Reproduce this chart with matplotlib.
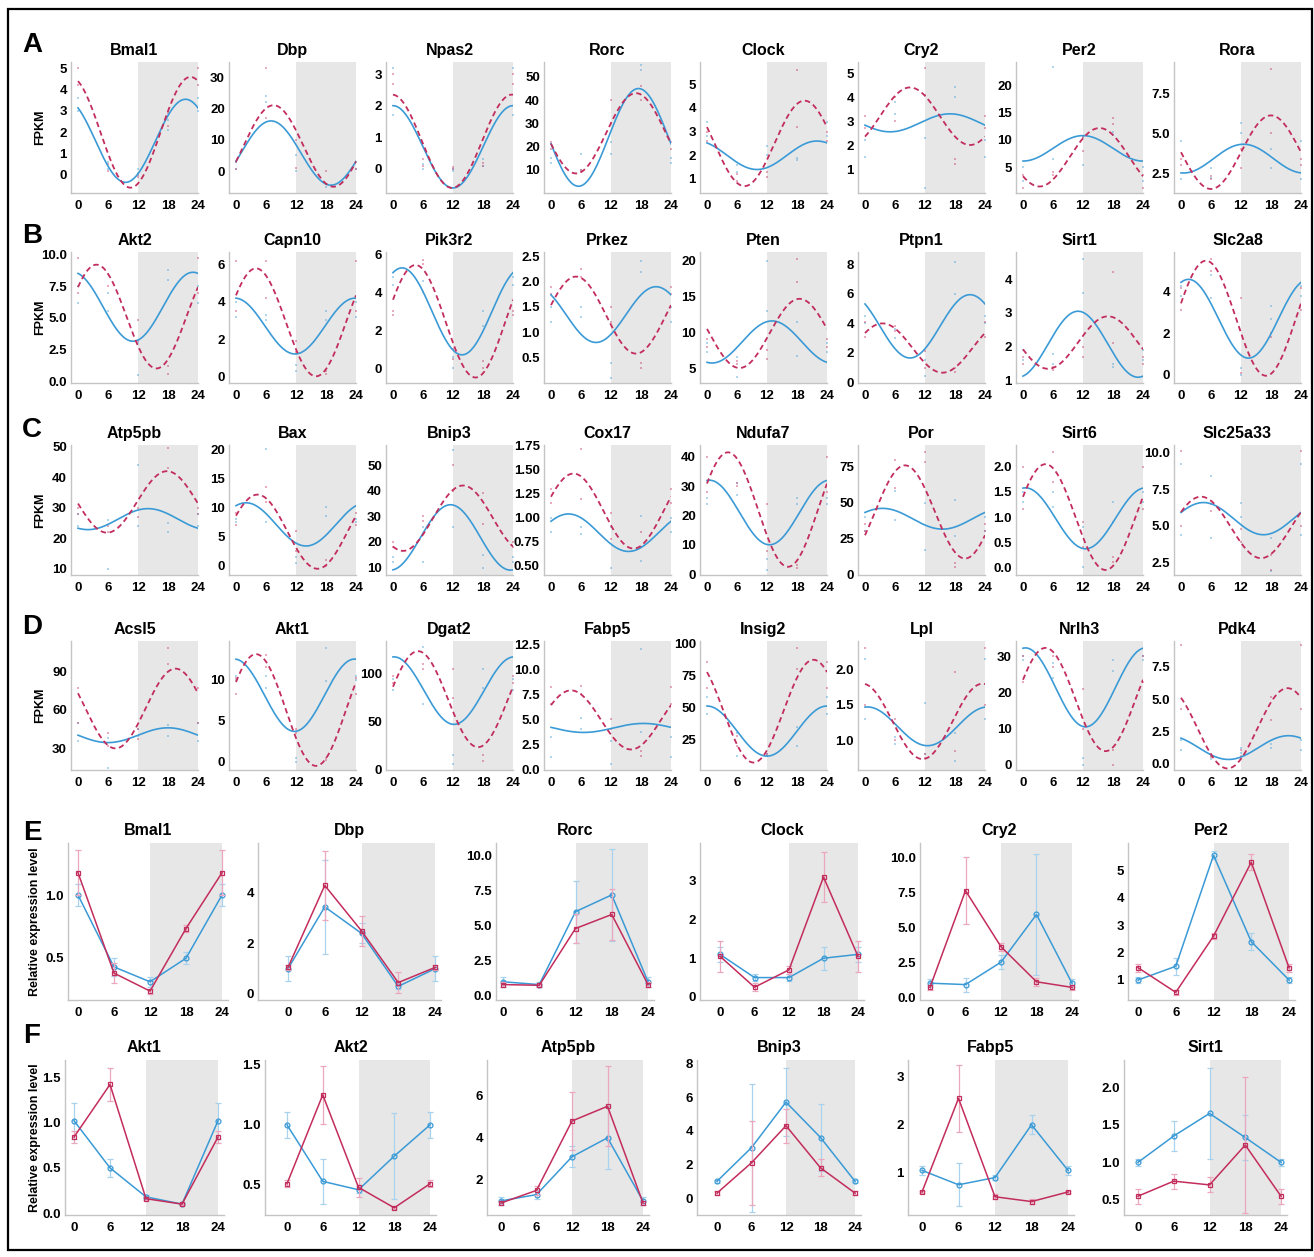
import numpy as np
import matplotlib
matplotlib.use("Agg")
import matplotlib.pyplot as plt
from matplotlib.patches import Rectangle

plt.rcParams["font.family"] = ["Liberation Sans", "DejaVu Sans"]
plt.rcParams["font.weight"] = "bold"

W, H = 1314, 1257
BLUE = "#3a9ad6"
RED = "#c22d5c"
BLUE_ERR = "#a9d2ee"
RED_ERR = "#eba7bd"
SHADE = "#e7e7e7"
SPINE = "#c4c4c4"
TIMES = [0, 6, 12, 18, 24]

# ---------------------------------------------------------------------------
# Panels A-D: RNA-seq FPKM, cosinor fits (mesor, amplitude, peak time)
# ---------------------------------------------------------------------------
GENES_AD = [
    ["Bmal1", "Dbp", "Npas2", "Rorc", "Clock", "Cry2", "Per2", "Rora"],
    ["Akt2", "Capn10", "Pik3r2", "Prkez", "Pten", "Ptpn1", "Sirt1", "Slc2a8"],
    ["Atp5pb", "Bax", "Bnip3", "Cox17", "Ndufa7", "Por", "Sirt6", "Slc25a33"],
    ["Acsl5", "Akt1", "Dgat2", "Fabp5", "Insig2", "Lpl", "Nrlh3", "Pdk4"],
]
YLIM_AD = [
    [(-0.85, 5.3), (-7, 34.8), (-0.76, 3.38), (0.1, 56.4), (0.41, 5.93), (0, 5.46), (0.2, 24.4), (1.25, 9.44)],
    [(-0.15, 10.2), (-0.36, 6.68), (-0.79, 6.14), (0, 2.585), (2.9, 21.26), (-0.05, 8.85), (0.93, 4.8), (-0.4, 5.92)],
    [(7.9, 50.6), (-1.57, 20.7), (7.1, 57.8), (0.405, 1.757), (-0.3, 44), (-0.5, 90.2), (-0.15, 2.43), (1.65, 10.53)],
    [(13.2, 113.5), (-1.0, 14.7), (-1, 134.7), (-0.05, 12.83), (1.2, 101.6), (0.575, 2.406), (-1.4, 34.2), (-0.52, 9.52)],
]
YTICKS_AD = [
    [[0, 1, 2, 3, 4, 5], [0, 10, 20, 30], [0, 1, 2, 3], [10, 20, 30, 40, 50], [1, 2, 3, 4, 5], [1, 2, 3, 4, 5],
     [5, 10, 15, 20], [2.5, 5.0, 7.5]],
    [[0, 2.5, 5, 7.5, 10], [0, 2, 4, 6], [0, 2, 4, 6], [0.5, 1, 1.5, 2, 2.5], [5, 10, 15, 20], [0, 2, 4, 6, 8],
     [1, 2, 3, 4], [0, 2, 4]],
    [[10, 20, 30, 40, 50], [0, 5, 10, 15, 20], [10, 20, 30, 40, 50], [0.5, 0.75, 1.0, 1.25, 1.5, 1.75],
     [0, 10, 20, 30, 40], [0, 25, 50, 75], [0, 0.5, 1, 1.5, 2], [2.5, 5, 7.5, 10]],
    [[30, 60, 90], [0, 5, 10], [0, 50, 100], [0, 2.5, 5, 7.5, 10, 12.5], [25, 50, 75, 100], [1.0, 1.5, 2.0],
     [0, 10, 20, 30], [0, 2.5, 5, 7.5]],
]
YDEC_AD = [
    [0, 0, 0, 0, 0, 0, 0, 1],
    [1, 0, 0, 1, 0, 0, 0, 0],
    [0, 0, 0, 2, 0, 0, 1, 1],
    [0, 0, 0, 1, 0, 1, 0, 1],
]
FIT_BLUE = [
    [(1.6, 1.95, 21.5), (5.75, 10.25, 7), (0.7, 1.3, 0), (24, 21, 17.5), (2.0, 0.6, 22), (2.925, 0.375, 17),
     (8.45, 2.35, 12), (3.4, 0.9, 12.5)],
    [(5.875, 2.725, 23), (2.7, 1.5, 23.8), (3.0, 2.3, 1.8), (1.35, 0.55, 21), (8.65, 2.95, 13), (3.8, 2.15, 21),
     (2.075, 0.975, 11), (2.7, 1.9, 1.5)],
    [(26.25, 3.45, 14), (7.1, 3.7, 2), (21.75, 12.75, 11.5), (0.845, 0.195, 3.5), (21, 11, 0.5), (38.75, 7.25, 3.5),
     (0.975, 0.605, 0.5), (5.5, 1.1, 4.5)],
    [(40.25, 5.75, 18), (8.1, 4.4, 23.7), (82.5, 35.5, 0.2), (4.15, 0.45, 18.5), (31.5, 19.5, 0),
     (1.195, 0.275, 0.5), (21.4, 10.9, 0.5), (1.225, 0.925, 21.5)],
]
FIT_RED = [
    [(2.0, 2.6, 22.5), (8, 13, 7.5), (0.875, 1.475, 23.8), (25.75, 17.25, 17), (2.5, 1.8, 19.5), (3.2, 1.2, 9),
     (6.8, 5.4, 15.3), (3.8, 2.3, 18)],
    [(5.1, 4.1, 3.7), (2.9, 2.9, 4), (2.475, 2.975, 4.5), (1.34, 0.76, 5), (9.85, 4.85, 18.5), (2.325, 1.675, 3.5),
     (2.125, 0.775, 17), (2.725, 2.775, 5)],
    [(31.9, 10.1, 17.8), (5.85, 6.35, 4.3), (29.25, 12.75, 14), (1.07, 0.39, 4.5), (22, 19.5, 4.2), (43.5, 32.5, 8),
     (1.0, 1.05, 4.5), (4.9, 2.1, 4)],
    [(61, 31, 19.5), (6.3, 6.8, 4), (73.5, 50.5, 5), (4.95, 2.95, 4), (47, 40, 21.3), (1.265, 0.535, 23.5),
     (18.05, 14.25, 4.5), (2.725, 3.125, 21.3)],
]
# replicate values, two per time point at 0, 6, 12, 18 h (0 h repeated at 24 h)
DOTS_BLUE = [
    [[3.0, 3.6, 0.3, 0.6, 0.3, 0.1, 2.1, 2.6], [3, 0.5, 24, 22, 0, 5, -4, -5], [1.7, 3.2, 0.0, 0.15, 0.0, -0.05, 0.3, 0.1],
     [13, 15, 17, 10, 17, 22, 55, 53], [2.8, 3.4, 1.3, 1.6, 2.4, 2.0, 1.8, 1.9], [1.5, 2.2, 3.3, 3.8, 0.2, 2.3, 4.4, 4.0],
     [5, 2.5, 23.5, 6.5, 5.3, 10.5, 11, 11.5], [2.1, 4.5, 2.8, 2.2, 5.6, 5.0, 2.8, 4.0]],
    [[6.2, 7.5, 5.5, 7, 0.5, 3, 8.8, 8.0], [3.2, 4, 3.3, 3.0, 0.3, 0.6, 3.5, 3.0], [4.8, 4.4, 4.6, 4.0, 0.0, 0.6, 3.0, 2.2],
     [1.2, 1.5, 1.5, 1.3, 0.1, 0.4, 2.4, 2.2], [7.2, 8.5, 3.7, 6.5, 20, 13, 6.7, 11.5], [4.5, 4.0, 3.0, 3.6, 0.4, 1.5, 8.2, 6.0],
     [1.9, 1.6, 1.8, 1.5, 4.6, 3.6, 1.4, 1.5], [3.8, 4.3, 3.7, 4.8, 0.0, 0.3, 3.3, 2.7]],
    [[24, 28, 10, 26, 44, 24, 22, 25], [7.5, 8, 20, 7.5, 0.5, 1.5, 10, 8.5], [14, 12, 12, 26, 56, 26, 10, 15],
     [0.85, 1.0, 0.83, 0.9, 0.48, 0.9, 0.55, 1.02], [24, 26, 27, 31, 1.5, 5, 24, 26], [30, 40, 38, 58, 17, 50, 52, 27],
     [1.3, 1.5, 1.5, 1.2, 0.0, 0.8, 1.3, 0.9], [9.2, 4.4, 8.4, 4.2, 6.6, 5.6, 4.2, 1.9]],
    [[36, 50, 15, 38, 45, 40, 40, 48], [10.5, 10, 10.5, 9, 0.5, 0, 13.8, 9.8], [83, 95, 68, 128, 5, 15, 105, 85],
     [1.2, 3.2, 5.1, 4.0, 0.5, 2.8, 12, 3.7], [45, 58, 12, 30, 12, 14, 20, 35], [2.15, 1.3, 0.95, 1.05, 1.52, 0.8, 0.7, 1.1],
     [29, 30, 24, 28, 0, 2, 26, 29], [1.0, 1.8, 0.6, 0.3, 1.2, 0.8, 1.5, 1.2]],
]
DOTS_RED = [
    [[4.2, 5.0, 0.5, 0.2, -0.1, 0.0, 2.3, 2.9], [0.5, 3, 33, 17, 10, 1, 0, -4], [2.7, 3.0, 0.3, 0.1, 0.05, 0.0, 0.2, 0.1],
     [22, 19, 10, 9, 40, 30, 46, 40], [2.6, 3.0, 0.9, 1.2, 1.1, 1.3, 5.6, 3.2], [3.2, 2.7, 3.0, 4.0, 5.2, 4.1, 1.4, 1.2],
     [1.2, 3.5, 3.5, 4, 8, 10.5, 14, 13], [3.4, 3.0, 2.1, 2.3, 2.8, 4.0, 9.0, 5.0]],
    [[9.7, 7, 7.5, 8.5, 4.8, 3.2, 0.6, 1.2], [6.2, 3.5, 6.2, 4.2, 1.9, 1.3, 0.1, 0.3], [2.8, 3.0, 5.7, 5.5, 1.0, 0.5, 0.0, 0.4],
     [1.9, 1.75, 2.25, 2.1, 1.5, 1.2, 0.3, 0.4], [8, 9, 6, 5.5, 6.2, 7.5, 20.3, 17], [3.1, 4.1, 3.5, 3.8, 2.1, 1.0, 0.7, 1.0],
     [1.7, 1.5, 1.3, 1.4, 1.7, 2.0, 4.2, 2.1], [3.1, 4.2, 5.6, 5.0, 3.7, 0.1, 1.8, 2.0]],
    [[28, 30, 24, 22, 27, 30, 49.5, 43], [7, 9, 13.5, 11, 6, 2.5, 0, 1], [20, 18, 30, 28, 50, 40, 39, 27],
     [1.3, 1.15, 1.72, 1.2, 1.05, 0.78, 0.85, 0.7], [40, 28, 31, 30, 24, 8, 2, 3], [35, 30, 80, 60, 85, 78, 5, 8],
     [2.0, 1.15, 2.3, 1.7, 0.9, 0.4, 0.2, 0.1], [10.1, 5.0, 6.5, 6.0, 4.8, 3.9, 2.0, 3.0]],
    [[77, 50, 42, 32, 37, 45, 108, 96], [8.2, 10.2, 13, 11.5, 4, 3.5, 0.2, 0.5], [98, 90, 105, 110, 105, 75, 8, 15],
     [8.2, 6.5, 8.3, 7.5, 5.0, 4.0, 1.3, 1.8], [85, 65, 28, 20, 14, 12, 96, 80], [2.3, 1.5, 1.3, 1.0, 0.75, 0.8, 1.97, 0.85],
     [23, 30, 30, 27, 21, 10, 0, 4], [9.2, 4.2, 0.5, 0.7, 0.6, 1.0, 5.2, 3.4]],
]

# ---------------------------------------------------------------------------
# Panels E-F: qPCR relative expression (mean, error) at 0/6/12/18/24 h
# ---------------------------------------------------------------------------
GENES_EF = [
    ["Bmal1", "Dbp", "Rorc", "Clock", "Cry2", "Per2"],
    ["Akt1", "Akt2", "Atp5pb", "Bnip3", "Fabp5", "Sirt1"],
]
YLIM_EF = [
    [(0.153, 1.42), (-0.24, 5.98), (-0.3, 10.9), (-0.08, 3.98), (-0.2, 11.0), (0.27, 6.0)],
    [(-0.02, 1.69), (0.25, 1.54), (0.33, 7.7), (-1.0, 8.2), (0.12, 3.35), (0.3, 2.36)],
]
YTICKS_EF = [
    [[0.5, 1.0], [0, 2, 4], [0, 2.5, 5, 7.5, 10], [0, 1, 2, 3], [0, 2.5, 5, 7.5, 10], [1, 2, 3, 4, 5]],
    [[0, 0.5, 1, 1.5], [0.5, 1.0, 1.5], [2, 4, 6], [0, 2, 4, 6, 8], [1, 2, 3], [0.5, 1.0, 1.5, 2.0]],
]
YDEC_EF = [
    [1, 0, 1, 0, 1, 0],
    [1, 1, 0, 0, 0, 1],
]
MEAN_BLUE = [
    [[1.0, 0.42, 0.30, 0.49, 1.0], [1.0, 3.45, 2.4, 0.3, 1.0], [1.0, 0.8, 6.0, 7.2, 1.0],
     [1.1, 0.5, 0.5, 1.0, 1.1], [1.0, 0.9, 2.5, 5.9, 1.0], [1.0, 1.5, 5.55, 2.4, 1.0]],
    [[1.02, 0.5, 0.18, 0.1, 1.02], [1.0, 0.53, 0.46, 0.74, 1.0], [1.0, 1.3, 3.1, 4.0, 1.0],
     [1.0, 3.0, 5.7, 3.6, 1.0], [1.05, 0.75, 0.9, 2.0, 1.05], [1.0, 1.35, 1.65, 1.33, 1.0]],
]
ERR_BLUE = [
    [[0.09, 0.07, 0.04, 0.05, 0.09], [0.5, 1.85, 0.4, 0.1, 0.5], [0.35, 0.15, 2.2, 3.3, 0.35],
     [0.2, 0.1, 0.1, 0.3, 0.2], [0.3, 0.5, 0.5, 4.3, 0.3], [0.1, 0.3, 0.15, 0.3, 0.1]],
    [[0.2, 0.1, 0.02, 0.01, 0.2], [0.11, 0.19, 0.03, 0.36, 0.11], [0.2, 0.2, 0.5, 1.5, 0.2],
     [0.1, 3.8, 2.0, 2.0, 0.1], [0.1, 0.45, 0.05, 0.2, 0.1], [0.05, 0.2, 0.6, 0.3, 0.05]],
]
MEAN_RED = [
    [[1.18, 0.37, 0.225, 0.73, 1.18], [1.05, 4.3, 2.5, 0.45, 1.05], [0.8, 0.75, 4.8, 5.8, 0.8],
     [1.05, 0.25, 0.7, 3.1, 1.05], [0.7, 7.6, 3.6, 1.1, 0.7], [1.45, 0.55, 2.6, 5.3, 1.45]],
    [[0.84, 1.42, 0.16, 0.1, 0.84], [0.51, 1.25, 0.48, 0.31, 0.51], [0.9, 1.5, 4.8, 5.5, 0.9],
     [0.3, 2.1, 4.3, 1.8, 0.3], [0.6, 2.55, 0.5, 0.4, 0.6], [0.55, 0.75, 0.7, 1.23, 0.55]],
]
ERR_RED = [
    [[0.18, 0.08, 0.02, 0.03, 0.18], [0.1, 1.37, 0.6, 0.4, 0.1], [0.15, 0.1, 1.0, 1.8, 0.15],
     [0.4, 0.1, 0.1, 0.65, 0.4], [0.2, 2.4, 0.3, 0.3, 0.2], [0.15, 0.1, 0.1, 0.3, 0.15]],
    [[0.07, 0.18, 0.02, 0.01, 0.07], [0.03, 0.24, 0.08, 0.01, 0.03], [0.1, 0.2, 1.4, 1.9, 0.1],
     [0.1, 2.5, 1.0, 0.5, 0.1], [0.02, 0.7, 0.05, 0.05, 0.02], [0.1, 0.1, 0.1, 0.9, 0.1]],
]

# ---------------------------------------------------------------------------
# Layout (pixels)
# ---------------------------------------------------------------------------
AD_TOP = [62, 252, 445, 641]
AD_BOT = [193, 383, 575, 770]
AD_X0 = [78, 236, 393, 551, 707, 865, 1023, 1181]
AD_SPAN = 120
EF_TOP = [843, 1060]
EF_BOT = [1000, 1215]
EF_X = [  # (spine, x at 0 h, x at 24 h)
    [(68, 78, 222), (258, 288, 435), (496, 503, 648), (700, 720, 858), (920, 930, 1072), (1128, 1138, 1289)],
    [(65, 74, 218), (265, 287, 430), (487, 501, 643), (697, 717, 855), (908, 922, 1068), (1124, 1138, 1281)],
]
LETTERS = [("A", 45), ("B", 236), ("C", 430), ("D", 627), ("E", 833), ("F", 1036)]

fig = plt.figure(figsize=(W / 100, H / 100), dpi=100, facecolor="white")


def px_axes(left, top, right, bottom):
    return fig.add_axes([left / W, 1 - bottom / H, (right - left) / W, (bottom - top) / H])


def style(ax, ylim, yticks, dec, gene, title_pad):
    ax.set_ylim(*ylim)
    ax.set_yticks(yticks)
    ax.set_yticklabels([f"{v:.{dec}f}" for v in yticks])
    ax.set_xticks(TIMES)
    ax.set_xticklabels([str(t) for t in TIMES])
    ax.tick_params(length=0, labelsize=9.5, colors="black")
    ax.tick_params(axis="x", pad=5)
    ax.tick_params(axis="y", pad=3)
    for s in ("top", "right"):
        ax.spines[s].set_visible(False)
    for s in ("left", "bottom"):
        ax.spines[s].set_color(SPINE)
        ax.spines[s].set_linewidth(1.0)
    for lab in ax.get_xticklabels() + ax.get_yticklabels():
        lab.set_fontweight("bold")
    ax.set_title(gene, fontsize=11.5, fontweight="bold", pad=title_pad)
    ax.set_facecolor("white")


def cosinor(fit, t):
    mesor, amp, peak = fit
    return mesor + amp * np.cos(2 * np.pi * (t - peak) / 24)


t_fine = np.linspace(0, 24, 241)
for r in range(4):
    for c in range(8):
        x0 = AD_X0[c]
        ax = px_axes(x0 - 7, AD_TOP[r], x0 + AD_SPAN, AD_BOT[r])
        ax.set_xlim(-7 / AD_SPAN * 24, 24)
        ax.axvspan(12, 24, color=SHADE, lw=0, zorder=0)
        for dots, col in ((DOTS_BLUE[r][c], BLUE), (DOTS_RED[r][c], RED)):
            xs = [0, 0, 6, 6, 12, 12, 18, 18, 24, 24]
            ys = list(dots) + list(dots[:2])
            ax.scatter(xs, ys, s=2.2, color=col, alpha=0.4, lw=0, marker="s", zorder=2)
        ax.plot(t_fine, cosinor(FIT_BLUE[r][c], t_fine), color=BLUE, lw=1.2, zorder=3)
        ax.plot(t_fine, cosinor(FIT_RED[r][c], t_fine), color=RED, lw=1.3,
                ls=(0, (3, 2)), zorder=4)
        style(ax, YLIM_AD[r][c], YTICKS_AD[r][c], YDEC_AD[r][c], GENES_AD[r][c], 5)
    fig.text(40 / W, 1 - (AD_TOP[r] + AD_BOT[r]) / 2 / H, "FPKM", rotation=90,
             fontsize=9, fontweight="bold", ha="center", va="center")

for r in range(2):
    for c in range(6):
        sp, x0, x24 = EF_X[r][c]
        span = x24 - x0
        ax = px_axes(sp, EF_TOP[r], x24 + 6, EF_BOT[r])
        ax.set_xlim(-(x0 - sp) / span * 24, 24 + 6 / span * 24)
        ax.axvspan(12, 24, color=SHADE, lw=0, zorder=0)
        ax.errorbar(TIMES, MEAN_BLUE[r][c], yerr=ERR_BLUE[r][c], color=BLUE, lw=1.1,
                    marker="o", ms=3.5, mfc="none", mew=0.9, ecolor=BLUE_ERR,
                    elinewidth=0.9, capsize=2, capthick=0.9, zorder=3)
        ax.errorbar(TIMES, MEAN_RED[r][c], yerr=ERR_RED[r][c], color=RED, lw=1.1,
                    marker="s", ms=3.5, mfc="none", mew=0.9, ecolor=RED_ERR,
                    elinewidth=0.9, capsize=2, capthick=0.9, zorder=4)
        style(ax, YLIM_EF[r][c], YTICKS_EF[r][c], YDEC_EF[r][c], GENES_EF[r][c], 6)
    fig.text(35 / W, 1 - (EF_TOP[r] + EF_BOT[r]) / 2 / H, "Relative expression level",
             rotation=90, fontsize=9, fontweight="bold", ha="center", va="center")

for letter, y in LETTERS:
    fig.text(32 / W, 1 - y / H, letter, fontsize=20, fontweight="bold",
             ha="center", va="center")

fig.patches.append(Rectangle((8 / W, 1 - 1250 / H), 1304 / W, 1241 / H, fill=False,
                             edgecolor="black", lw=1.6, transform=fig.transFigure))

fig.savefig("out.png", dpi=100, facecolor="white")
plt.close(fig)
